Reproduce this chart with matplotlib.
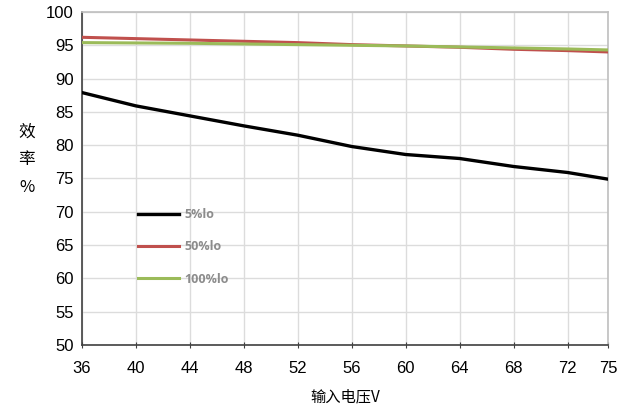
import matplotlib.pyplot as plt

plt.rcParams['font.family'] = ['Liberation Sans', 'Noto Sans CJK SC', 'DejaVu Sans']

# input voltage (V) and efficiency (%) at three load levels
voltage = [36, 40, 44, 48, 52, 56, 60, 64, 68, 72, 75]
eff_5 = [87.9, 85.9, 84.4, 82.9, 81.5, 79.8, 78.6, 78.0, 76.8, 75.9, 74.9]
eff_50 = [96.2, 96.0, 95.8, 95.6, 95.4, 95.1, 94.9, 94.7, 94.4, 94.2, 94.0]
eff_100 = [95.4, 95.35, 95.3, 95.2, 95.1, 95.0, 94.9, 94.75, 94.6, 94.45, 94.3]
labels = ['5%lo', '50%lo', '100%lo']
y_ticks = [50, 55, 60, 65, 70, 75, 80, 85, 90, 95, 100]

fig = plt.figure(figsize=(6.33, 4.09), dpi=100)
ax = fig.add_axes([0.1295, 0.1565, 0.831, 0.8142])

ax.plot(voltage, eff_5, color='black', lw=2.4, label=labels[0], zorder=4)
ax.plot(voltage, eff_50, color='#c0504d', lw=2.2, label=labels[1], zorder=3)
ax.plot(voltage, eff_100, color='#9bbb59', lw=2.2, label=labels[2], zorder=3)

ax.set_xlim(36, 75)
ax.set_ylim(50, 100)
ax.set_xticks(voltage)
ax.set_yticks(y_ticks)
ax.grid(True, color='#dcdcdc', lw=1)
ax.set_axisbelow(True)

ax.tick_params(axis='x', direction='inout', length=5, color='#404040', labelsize=12, pad=9)
ax.tick_params(axis='y', length=0, labelsize=12, pad=6)

for side in ['left', 'bottom']:
    ax.spines[side].set_color('#404040')
    ax.spines[side].set_linewidth(1.2)
for side in ['top', 'right']:
    ax.spines[side].set_color('#bfbfbf')
    ax.spines[side].set_linewidth(1.2)

ax.set_xlabel('输入电压V', fontsize=11, family=['Noto Sans CJK SC', 'Liberation Sans'], labelpad=9)
ax.set_ylabel('效\n率\n%', rotation=0, fontsize=12, linespacing=1.85,
              family=['Noto Sans CJK SC', 'Liberation Sans'], va='center', ha='center')
ax.yaxis.set_label_coords(-0.105, 0.556)

leg = ax.legend(loc='upper left', bbox_to_anchor=(0.085, 0.445), frameon=False,
                handlelength=3.3, handletextpad=0.4, labelspacing=1.55,
                prop={'size': 9, 'weight': 'bold', 'family': 'Open Sans'})
for t in leg.get_texts():
    t.set_color('#8c8c8c')

fig.savefig('out.png', dpi=100)
